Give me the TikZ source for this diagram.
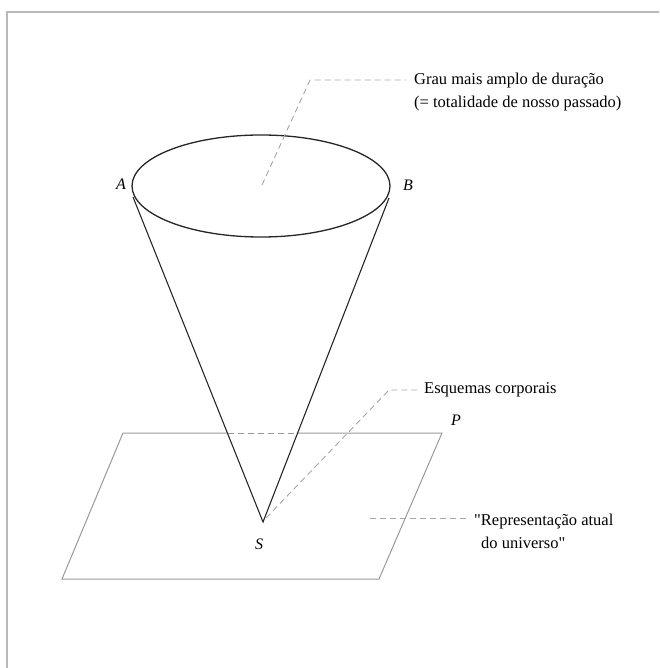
\documentclass[tikz,border=0pt]{standalone}
\usepackage{fontspec}
\setmainfont{Liberation Serif}
\begin{document}
\begin{tikzpicture}[x=1pt,y=-1pt,
  lbl/.style={font=\fontsize{16}{20}\selectfont\itshape, inner sep=0pt},
  txt/.style={font=\fontsize{16.5}{23}\selectfont, inner sep=0pt, align=left, anchor=west},
  leader/.style={draw=gray!70, dash pattern=on 6pt off 4pt, line width=0.9pt},
  cone/.style={draw=black!85, line width=1.1pt},
  plane/.style={draw=gray!80, line width=1pt}]
\useasboundingbox (0,0) rectangle (659,668);
\begin{scope}
\clip (0,0) rectangle (659,668);
\draw[gray!55, line width=1.6pt] (7,12) rectangle (680,690);
\end{scope}
% points
\coordinate (C) at (261,186);
\coordinate (TA) at (133,197);
\coordinate (TB) at (389,198);
\coordinate (S) at (263,522);
\coordinate (P1) at (123,433);
\coordinate (P2) at (442,433);
\coordinate (P3) at (379,579);
\coordinate (P4) at (62,579);
\coordinate (L1) at (228,433);
\coordinate (L2) at (297,433);
% plane
\draw[plane] (L1) -- (P1) -- (P4) -- (P3) -- (P2) -- (L2);
\draw[plane, dash pattern=on 6pt off 4pt] (L1) -- (L2);
% cone
\draw[cone, line width=1.3pt] (C) ellipse [x radius=129, y radius=51];
\draw[cone] (TA) -- (S) -- (TB);
% labels
\node[lbl] (A) at (121,184) {A};
\node[lbl] (B) at (408,185) {B};
\node[lbl] (Sl) at (259,544) {S};
\node[lbl] (P) at (456,420) {P};
% texts
\node[txt] (t1) at (414,92) {Grau mais amplo de duração\\(= totalidade de nosso passado)};
\node[txt] (t2) at (424,390) {Esquemas corporais};
\node[txt] (t3) at (474,531) {\textquotedbl Representação atual\\\hspace*{7pt}do universo\textquotedbl};
% leaders
\coordinate (k1) at (310,80);
\coordinate (e1) at (406,80);
\coordinate (c1) at (262,185);
\draw[leader] (c1) -- (k1) -- (e1);
\coordinate (s1) at (266,518);
\coordinate (k2) at (389,390);
\coordinate (e2) at (417,390);
\draw[leader] (s1) -- (k2) -- (e2);
\coordinate (r1) at (370,518);
\coordinate (r2) at (466,518);
\draw[leader] (r1) -- (r2);
\end{tikzpicture}
\end{document}
